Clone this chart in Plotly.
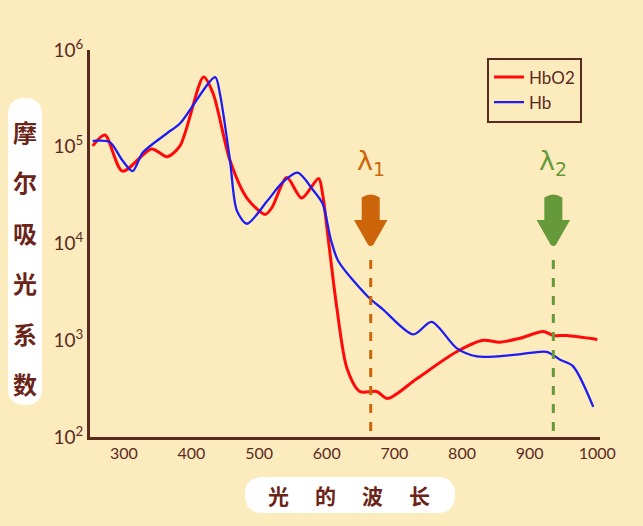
import plotly.graph_objects as go

# ---- data ----
hbo2_wl = [254, 272, 298, 341, 364, 383, 418, 432, 457, 482, 509, 519, 541, 563, 588, 594, 602,
           615, 630, 649, 674, 690, 733, 792, 831, 856, 886, 920, 935, 955, 1000]
hbo2_eps = [102000, 132000, 56000, 95000, 79000, 102000, 525000, 355000, 72000, 29500, 20000, 23500,
            48000, 29500, 47000, 32000, 11500,
            2140, 510, 295, 295, 250, 400, 760, 1000, 955, 1050, 1230, 1120, 1120, 1020]
hb_wl = [254, 279, 298, 313, 328, 364, 383, 435, 442, 457, 467, 482, 512, 535, 557, 580, 594, 606,
         617, 661, 683, 728, 755, 792, 822, 881, 925, 945, 964, 994]
hb_eps = [115000, 112000, 72000, 56000, 87000, 138000, 174000, 525000, 355000, 72000, 22000, 16000,
          27500, 43000, 54000, 35500, 25700, 11000,
          6600, 2820, 2090, 1150, 1550, 830, 680, 710, 760, 630, 540, 205]

x_ticks = [300, 400, 500, 600, 700, 800, 900, 1000]
y_ticks = [1e2, 1e3, 1e4, 1e5, 1e6]
y_tick_text = ["10<sup>2</sup>", "10<sup>3</sup>", "10<sup>4</sup>", "10<sup>5</sup>", "10<sup>6</sup>"]
lambda1 = 665
lambda2 = 935
y_title_chars = ["摩", "尔", "吸", "光", "系", "数"]
x_title_chars = ["光", "的", "波", "长"]

BG = "#fcebbd"
BROWN = "#5b2a1f"
TITLE = "#6b2418"
ORANGE = "#cc650a"
GREEN = "#66993a"

W, H = 643, 526
ML, MR, MT, MB = 90, 43, 50, 89
PW, PH = W - ML - MR, H - MT - MB


def pyp(py):
    return (H - MB - py) / PH


def pxp(px):
    return (px - ML) / PW


fig = go.Figure()
fig.add_trace(go.Scatter(x=hbo2_wl, y=hbo2_eps, mode="lines", name="HbO2",
                         line=dict(color="#ff0a0a", width=3, shape="spline", smoothing=0.8)))
fig.add_trace(go.Scatter(x=hb_wl, y=hb_eps, mode="lines", name="Hb",
                         line=dict(color="#1c1cf5", width=2.3, shape="spline", smoothing=0.8)))

shapes = []
annotations = []


def pill(x0, y0, x1, y1, r):
    # pixel coords relative to plot origin (bottom-left), y up
    return (f"M {x0+r},{y0} L {x1-r},{y0} Q {x1},{y0} {x1},{y0+r} L {x1},{y1-r} "
            f"Q {x1},{y1} {x1-r},{y1} L {x0+r},{y1} Q {x0},{y1} {x0},{y1-r} "
            f"L {x0},{y0+r} Q {x0},{y0} {x0+r},{y0} Z")


# y title pill
shapes.append(dict(type="path", xref="paper", yref="paper", xsizemode="pixel", ysizemode="pixel",
                   xanchor=0, yanchor=0, path=pill(8 - ML, H - MB - 405, 42 - ML, H - MB - 98, 17),
                   fillcolor="white", line=dict(width=0), layer="below"))
# x title pill
shapes.append(dict(type="path", xref="paper", yref="paper", xsizemode="pixel", ysizemode="pixel",
                   xanchor=0, yanchor=0, path=pill(245 - ML, H - MB - 513, 455 - ML, H - MB - 477, 18),
                   fillcolor="white", line=dict(width=0), layer="below"))

for i, ch in enumerate(y_title_chars):
    annotations.append(dict(text=ch, xref="paper", yref="paper", x=pxp(25), y=pyp(131 + i * 50.5),
                            showarrow=False, xanchor="center", yanchor="middle",
                            font=dict(family="Noto Sans CJK SC", size=24, color=TITLE, weight="bold")))
for i, ch in enumerate(x_title_chars):
    annotations.append(dict(text=ch, xref="paper", yref="paper", x=pxp(278 + i * 47), y=pyp(495),
                            showarrow=False, xanchor="center", yanchor="middle",
                            font=dict(family="Noto Sans CJK SC", size=21, color=TITLE, weight="bold")))

arrow_path = "M -8,47 Q 0,52 8,47 L 8,24 L 15,24 L 2,1 Q 0,-1 -2,1 L -15,24 L -8,24 Z"
for lam, col, sub in [(lambda1, ORANGE, "1"), (lambda2, GREEN, "2")]:
    shapes.append(dict(type="line", xref="x", yref="paper", x0=lam, x1=lam, y0=pyp(431), y1=pyp(255),
                       line=dict(color=col, width=3, dash="dash")))
    shapes.append(dict(type="path", xref="x", yref="paper", xsizemode="pixel", ysizemode="pixel",
                       xanchor=lam, yanchor=pyp(245), path=arrow_path, fillcolor=col,
                       line=dict(color=col, width=2)))
    annotations.append(dict(text=f"λ<sub>{sub}</sub>", xref="x", yref="paper", x=lam, y=pyp(162),
                            showarrow=False, xanchor="center", yanchor="middle",
                            font=dict(family="DejaVu Sans", size=27, color=col)))

fig.update_layout(
    width=W, height=H,
    margin=dict(l=ML, r=MR, t=MT, b=MB),
    paper_bgcolor=BG, plot_bgcolor=BG,
    shapes=shapes, annotations=annotations,
    showlegend=True,
    legend=dict(x=pxp(487), y=pyp(90), xanchor="left", yanchor="middle",
                bgcolor=BG, bordercolor=BROWN, borderwidth=2,
                font=dict(family="Lato", size=17, color=BROWN),
                tracegroupgap=0, itemwidth=30),
    xaxis=dict(range=[250, 1004], tickvals=x_ticks, showgrid=False, zeroline=False,
               showline=True, linecolor=BROWN, linewidth=3, ticks="",
               tickfont=dict(family="Lato", size=16, color=BROWN)),
    yaxis=dict(type="log", range=[2, 6], tickvals=y_ticks, ticktext=y_tick_text, showgrid=False,
               zeroline=False, showline=True, linecolor=BROWN, linewidth=3, ticks="",
               tickfont=dict(family="Lato", size=19, color=BROWN)),
)

fig.write_html("out.html")
